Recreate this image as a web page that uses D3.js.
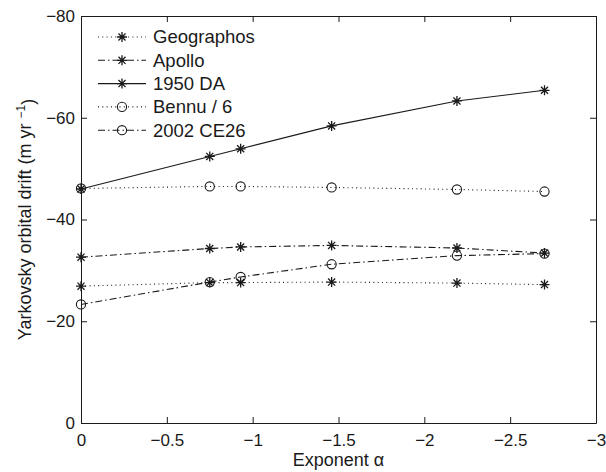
<!DOCTYPE html>
<html>
<head>
<meta charset="utf-8">
<script src="https://cdn.jsdelivr.net/npm/d3@7"></script>
<style>
  body { margin: 0; background: #fff; }
  text { font-family: "Liberation Sans", Arial, sans-serif; fill: #1a1a1a; }
</style>
</head>
<body>
<script>
// exponent alpha values (x)
const alphas = [0, -0.75, -0.93, -1.46, -2.19, -2.70]

// drift values per asteroid
const geographos = [-26.9, -27.6, -27.6, -27.7, -27.5, -27.2]
const apollo = [-32.6, -34.3, -34.6, -34.9, -34.4, -33.4]
const da1950 = [-46.0, -52.4, -53.9, -58.4, -63.3, -65.4]
const bennu6 = [-46.1, -46.5, -46.5, -46.3, -45.9, -45.5]
const ce26 = [-23.3, -27.7, -28.7, -31.2, -32.9, -33.3]

const seriesNames = ["Geographos", "Apollo", "1950 DA", "Bennu / 6", "2002 CE26"]

const xTicks = [0, -0.5, -1, -1.5, -2, -2.5, -3]
const xTickLabels = ["0", "\u22120.5", "\u22121", "\u22121.5", "\u22122", "\u22122.5", "\u22123"]
const yTicks = [0, -20, -40, -60, -80]
const yTickLabels = ["0", "\u221220", "\u221240", "\u221260", "\u221280"]

const width = 606
const height = 472
const plot = { left: 81, right: 596, top: 16, bottom: 423 }
const ink = "#1a1a1a"

const svg = d3.select("body").append("svg").attr("width", width).attr("height", height)

const x = d3.scaleLinear().domain([0, -3]).range([plot.left, plot.right])
const y = d3.scaleLinear().domain([0, -80]).range([plot.bottom, plot.top])

// styles for each series
const styles = [
  { dash: "1,3.3", marker: "star" },
  { dash: "7,3,1.5,3", marker: "star" },
  { dash: null, marker: "star" },
  { dash: "1,3.3", marker: "circle" },
  { dash: "7,3,1.5,3", marker: "circle" }
]
const seriesValues = [geographos, apollo, da1950, bennu6, ce26]

// axes, ticks inside, box all round
const axisStyle = g => {
  g.selectAll(".domain").attr("stroke", ink)
  g.selectAll(".tick line").attr("stroke", ink)
  g.selectAll("text").style("font-family", "Liberation Sans, Arial, sans-serif").style("font-size", "17px").attr("fill", ink)
}

svg.append("g").attr("transform", `translate(0,${plot.bottom})`)
  .call(d3.axisBottom(x).tickValues(xTicks).tickFormat((d, i) => xTickLabels[i]).tickSize(-6).tickSizeOuter(0).tickPadding(11))
  .call(axisStyle)

svg.append("g").attr("transform", `translate(0,${plot.top})`)
  .call(d3.axisTop(x).tickValues(xTicks).tickFormat("").tickSize(-6).tickSizeOuter(0))
  .call(axisStyle)

svg.append("g").attr("transform", `translate(${plot.left},0)`)
  .call(d3.axisLeft(y).tickValues(yTicks).tickFormat((d, i) => yTickLabels[i]).tickSize(-6).tickSizeOuter(0).tickPadding(6))
  .call(axisStyle)

svg.append("g").attr("transform", `translate(${plot.right},0)`)
  .call(d3.axisRight(y).tickValues(yTicks).tickFormat("").tickSize(-6).tickSizeOuter(0))
  .call(axisStyle)

// asterisk marker: + and x together
const asterisk = {
  draw(ctx, size) {
    const r = Math.sqrt(size) / 2
    const d = r * Math.SQRT1_2
    ctx.moveTo(-r, 0); ctx.lineTo(r, 0)
    ctx.moveTo(0, -r); ctx.lineTo(0, r)
    ctx.moveTo(-d, -d); ctx.lineTo(d, d)
    ctx.moveTo(-d, d); ctx.lineTo(d, -d)
  }
}
const starPath = d3.symbol().type(asterisk).size(100)()
const circlePath = d3.symbol().type(d3.symbolCircle).size(Math.PI * 4.6 * 4.6)()

const drawMarker = (g, kind, px, py) => {
  g.append("path")
    .attr("d", kind === "star" ? starPath : circlePath)
    .attr("transform", `translate(${px},${py})`)
    .attr("fill", "none")
    .attr("stroke", ink)
    .attr("stroke-width", kind === "star" ? 1.3 : 1.1)
}

const line = d3.line().x(d => x(d[0])).y(d => y(d[1]))

const marks = svg.append("g")
seriesValues.forEach((vals, i) => {
  const pts = alphas.map((a, j) => [a, vals[j]])
  marks.append("path")
    .attr("d", line(pts))
    .attr("fill", "none")
    .attr("stroke", ink)
    .attr("stroke-width", 1.1)
    .attr("stroke-dasharray", styles[i].dash)
  pts.forEach(p => drawMarker(marks, styles[i].marker, x(p[0]), y(p[1])))
})

// legend, no box
const legend = svg.append("g")
seriesNames.forEach((name, i) => {
  const ly = 37 + i * 23.3
  legend.append("line")
    .attr("x1", 98).attr("x2", 146).attr("y1", ly).attr("y2", ly)
    .attr("stroke", ink).attr("stroke-width", 1.1)
    .attr("stroke-dasharray", styles[i].dash)
  drawMarker(legend, styles[i].marker, 122, ly)
  legend.append("text")
    .attr("x", 153).attr("y", ly).attr("dy", "0.35em")
    .style("font-size", "18.5px")
    .text(name)
})

// axis labels
svg.append("text")
  .attr("x", (plot.left + plot.right) / 2).attr("y", 466)
  .attr("text-anchor", "middle")
  .style("font-size", "18px")
  .text("Exponent \u03b1")

const yl = svg.append("text")
  .attr("transform", `translate(31,${(plot.top + plot.bottom) / 2}) rotate(-90)`)
  .attr("text-anchor", "middle")
  .style("font-size", "18px")
yl.append("tspan").text("Yarkovsky orbital drift (m yr ")
yl.append("tspan").attr("dy", "-0.5em").style("font-size", "12px").text("\u22121")
yl.append("tspan").attr("dy", "0.5em").text(")")
</script>
</body>
</html>
